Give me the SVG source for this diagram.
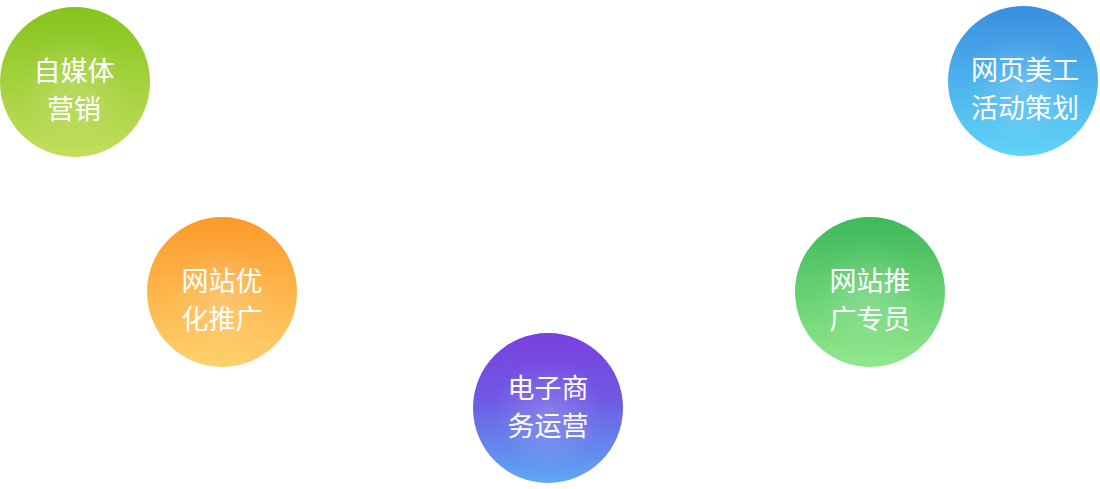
<svg xmlns="http://www.w3.org/2000/svg" width="1100" height="489" viewBox="0 0 1100 489">
<defs>
<linearGradient id="gGreen" x1="0" y1="0" x2="0" y2="1"><stop offset="0" stop-color="#84c41c"/><stop offset="1" stop-color="#c3de5e"/></linearGradient>
<linearGradient id="gOrange" x1="0" y1="0" x2="0" y2="1"><stop offset="0" stop-color="#fb9a2a"/><stop offset="1" stop-color="#ffd06c"/></linearGradient>
<linearGradient id="gPurple" x1="0" y1="0" x2="0" y2="1"><stop offset="0" stop-color="#7940e0"/><stop offset="0.45" stop-color="#6f5ae4"/><stop offset="1" stop-color="#5ea8f4"/></linearGradient>
<linearGradient id="gGreen2" x1="0" y1="0" x2="0" y2="1"><stop offset="0" stop-color="#3db95a"/><stop offset="1" stop-color="#92e88c"/></linearGradient>
<linearGradient id="gBlue" x1="0" y1="0" x2="0" y2="1"><stop offset="0" stop-color="#3a8ee0"/><stop offset="1" stop-color="#60d4f8"/></linearGradient>
<radialGradient id="glow" cx="0.5" cy="0.5" r="0.5"><stop offset="0" stop-color="#ffffff" stop-opacity="0.18"/><stop offset="1" stop-color="#ffffff" stop-opacity="0"/></radialGradient>
</defs>
<style>
.t{fill:#ffffff;font-family:"Noto Sans CJK SC","Noto Sans",sans-serif;font-size:27px;font-weight:400;text-anchor:middle}
</style>
<g id="connectors"></g>
<g id="node-zimeiti">
<circle cx="75" cy="82" r="75" fill="url(#gGreen)"/>
<circle cx="75" cy="88" r="55" fill="url(#glow)"/>
<text class="t" x="74" y="81">自媒体</text>
<text class="t" x="74" y="119">营销</text>
</g>
<g id="node-youhua">
<circle cx="222" cy="292" r="75" fill="url(#gOrange)"/>
<circle cx="222" cy="298" r="55" fill="url(#glow)"/>
<text class="t" x="222" y="291">网站优</text>
<text class="t" x="222" y="329">化推广</text>
</g>
<g id="node-dianshang">
<circle cx="548" cy="408" r="75" fill="url(#gPurple)"/>
<circle cx="548" cy="414" r="55" fill="url(#glow)"/>
<text class="t" x="548" y="398">电子商</text>
<text class="t" x="548" y="436">务运营</text>
</g>
<g id="node-tuiguang">
<circle cx="870" cy="292" r="75" fill="url(#gGreen2)"/>
<circle cx="870" cy="298" r="55" fill="url(#glow)"/>
<text class="t" x="870" y="291">网站推</text>
<text class="t" x="870" y="329">广专员</text>
</g>
<g id="node-meigong">
<circle cx="1023" cy="81" r="75" fill="url(#gBlue)"/>
<circle cx="1023" cy="87" r="55" fill="url(#glow)"/>
<text class="t" x="1025" y="80">网页美工</text>
<text class="t" x="1025" y="118">活动策划</text>
</g>
</svg>
